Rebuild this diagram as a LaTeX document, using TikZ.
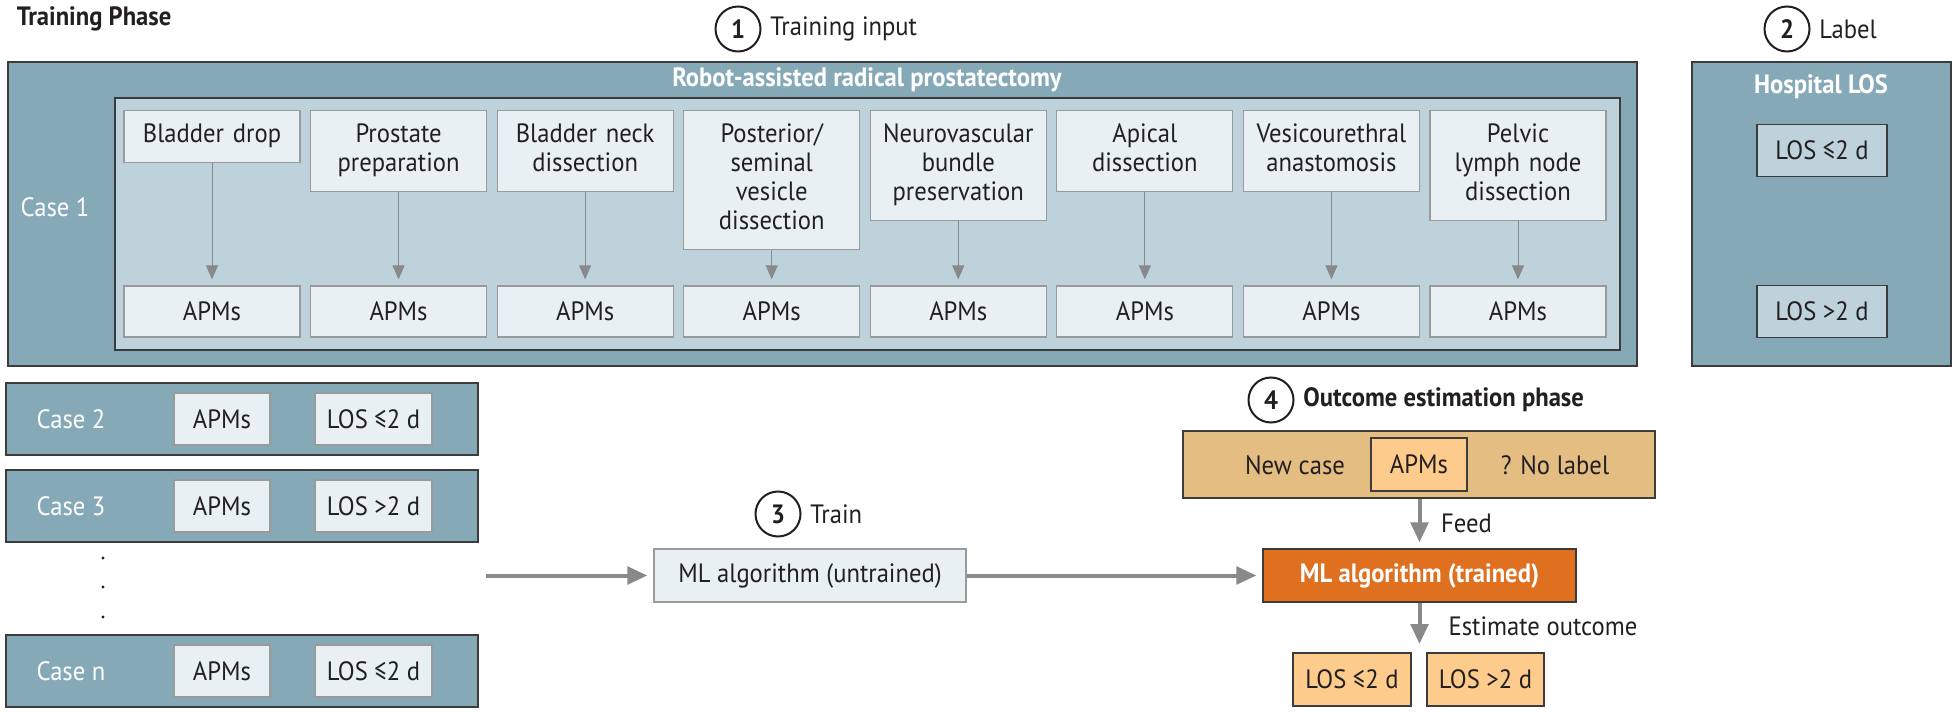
\documentclass[tikz,border=0pt]{standalone}
\usepackage{fontspec}
\setmainfont{PT Sans}[FakeStretch=0.93]
\usetikzlibrary{arrows.meta,fit}
\definecolor{ink}{HTML}{231F20}
\definecolor{caseblue}{HTML}{86A9B8}
\definecolor{innerblue}{HTML}{BDD2DB}
\definecolor{stepfill}{HTML}{E8F0F3}
\definecolor{stepedge}{HTML}{9A9A9A}
\definecolor{edge}{HTML}{3C3C3C}
\definecolor{arrowgray}{HTML}{88898B}
\definecolor{tan}{HTML}{E4BD83}
\definecolor{lightorange}{HTML}{FDCB8B}
\definecolor{mlorange}{HTML}{DF7020}
\begin{document}
\begin{tikzpicture}[x=0.4pt,y=-0.4pt,
  every node/.style={font=\fontsize{10.6}{11.6}\selectfont,text=ink},
  bigbox/.style={draw=edge,line width=0.6pt,fill=caseblue,inner sep=0pt},
  innerbox/.style={draw=edge,line width=0.6pt,fill=innerblue,inner sep=0pt},
  stepbox/.style={draw=stepedge,line width=0.5pt,fill=stepfill,text width=66pt,
    inner xsep=2.2pt,inner ysep=4.6pt,align=center,anchor=north,
    execute at begin node=\strut,execute at end node=\strut},
  apmbox/.style={draw=stepedge,line width=0.5pt,fill=stepfill,inner sep=0pt,
    minimum width=70.4pt,minimum height=20.4pt},
  losbox/.style={draw=edge,line width=0.5pt,fill=innerblue,inner sep=0pt,
    minimum width=52pt,minimum height=21pt},
  outbox/.style={draw=edge,line width=0.5pt,fill=lightorange,inner sep=0pt,
    minimum height=21.2pt},
  numcirc/.style={circle,draw=ink,line width=0.8pt,minimum size=18pt,inner sep=0pt,
    font=\fontsize{10.6}{12}\selectfont\bfseries},
  whitelab/.style={text=white},
  boldlab/.style={font=\fontsize{10.6}{11.6}\selectfont\bfseries},
  thin arrow/.style={draw=arrowgray,line width=0.4pt,shorten >=2.4pt,
    -{Triangle[length=5.6pt,width=4.8pt]}},
  thick arrow/.style={draw=arrowgray,line width=1.6pt,shorten >=2.4pt,
    -{Triangle[length=8pt,width=7pt]}}]
\useasboundingbox (0,0) rectangle (1957,712);

\node[boldlab,anchor=west] (phase) at (8,19) {Training Phase};

% training input
\node[numcirc] (n1) at (738,29) {1};
\node[anchor=west] (n1lab) at (n1.east) {Training input};
\node[bigbox,fit={(8,62) (1637,366)}] (case1) {};
\node[innerbox,fit={(115,98) (1620,350)}] (rarp) {};
\node[boldlab,whitelab] (rarplab) at (867,80) {Robot-assisted radical prostatectomy};
\node[whitelab] (case1lab) at (55,207) {Case 1};
\foreach \i/\txt in {1/Bladder drop,2/Prostate\\preparation,3/Bladder neck\\dissection,
    4/{Posterior/\\seminal\\vesicle\\dissection},5/Neurovascular\\bundle\\preservation,
    6/Apical\\dissection,7/Vesicourethral\\anastomosis,8/Pelvic\\lymph node\\dissection}{
  \pgfmathsetmacro\sx{212+(\i-1)*186.57}
  \node[stepbox] (s\i) at (\sx,110) {\txt};
  \node[apmbox] (a\i) at (\sx,311.5) {APMs};
  \draw[thin arrow] (s\i) -- (a\i);
}

% label
\node[numcirc] (n2) at (1787,29) {2};
\node[anchor=west] (n2lab) at (n2.east) {Label};
\node[bigbox,fit={(1692,62) (1951,366)}] (hosp) {};
\node[boldlab,whitelab] (hosplab) at (1821,87) {Hospital LOS};
\node[losbox] (hlos1) at (1822,150.5) {LOS ≤2 d};
\node[losbox] (hlos2) at (1822,311.5) {LOS >2 d};

% further cases
\foreach \n/\cy/\los in {2/419/{LOS ≤2 d},3/506/{LOS >2 d},n/671/{LOS ≤2 d}}{
  \node[bigbox,minimum width=188.8pt,minimum height=28.8pt] (case\n) at (242,\cy) {};
  \node[whitelab] (case\n-lab) at (71,\cy) {Case \n};
  \node[apmbox,minimum width=38.4pt,minimum height=20.8pt] (case\n-apm) at (222,\cy) {APMs};
  \node[apmbox,minimum width=46.8pt,minimum height=20.8pt] (case\n-los) at (373.5,\cy) {\los};
}
\foreach \dy in {558,587,617}
  \fill[ink] (103,\dy) circle (0.65pt);

% train
\coordinate (trainin) at (486,575.5);
\node[numcirc] (n3) at (778,514) {3};
\node[anchor=west] (n3lab) at (n3.east) {Train};
\node[apmbox,minimum width=124.8pt,minimum height=21.2pt] (untrained) at (810,575.5) {ML algorithm (untrained)};
\node[draw=edge,line width=0.5pt,fill=mlorange,text=white,boldlab,inner sep=0pt,
  minimum width=125.2pt,minimum height=21.2pt] (trained) at (1419.5,575.5) {ML algorithm (trained)};
\draw[thick arrow] (trainin) -- (untrained);
\draw[thick arrow] (untrained) -- (trained);

% outcome estimation
\node[numcirc] (n4) at (1271,400) {4};
\node[boldlab,anchor=west] (n4lab) at (n4.east) {Outcome estimation phase};
\node[draw=edge,line width=0.5pt,fill=tan,inner sep=0pt,fit={(1183,431) (1655,498)}] (newcase) {};
\node (newlab) at (1295,465) {New case};
\node[draw=edge,line width=0.5pt,fill=lightorange,inner sep=0pt,
  minimum width=38.4pt,minimum height=21.2pt] (newapm) at (1419,464.5) {APMs};
\node (nolab) at (1555,465) {? No label};
\draw[thick arrow] (newcase.south -| trained) -- (trained) node[midway,right=4.5pt] {Feed};
\coordinate (estout) at (1419.5,650);
\draw[thick arrow] (trained) -- (estout) node[midway,right=7.5pt] {Estimate outcome};
\node[outbox,minimum width=47.2pt] (out1) at (1352,679.5) {LOS ≤2 d};
\node[outbox,minimum width=46.8pt] (out2) at (1485.5,679.5) {LOS >2 d};
\end{tikzpicture}
\end{document}
